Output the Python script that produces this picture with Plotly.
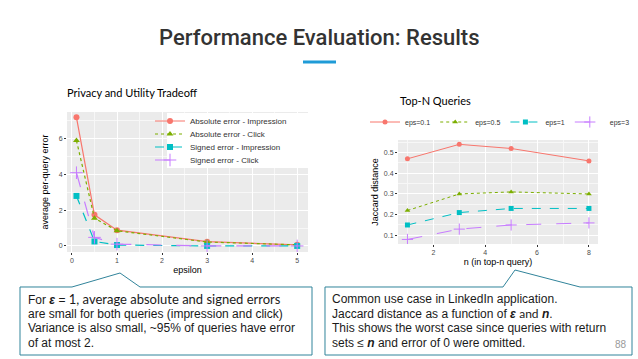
import plotly.graph_objects as go

W, H = 638, 359

# ---------------- data ----------------
eps_x = [0.1, 0.5, 1, 3, 5]
abs_imp = [7.2, 1.74, 0.88, 0.24, 0.06]
abs_click = [5.9, 1.55, 0.85, 0.22, 0.06]
sgn_imp = [2.8, 0.25, 0.05, 0.0, 0.0]
sgn_click = [4.1, 0.48, 0.1, 0.0, 0.0]
left_names = ["Absolute error - Impression", "Absolute error - Click",
              "Signed error - Impression", "Signed error - Click"]

n_x = [1, 3, 5, 8]
eps01 = [0.47, 0.54, 0.52, 0.46]
eps05 = [0.22, 0.30, 0.31, 0.30]
eps1 = [0.15, 0.21, 0.23, 0.23]
eps3 = [0.08, 0.13, 0.15, 0.16]
right_names = ["eps=0.1", "eps=0.5", "eps=1", "eps=3"]

left_yticks = [0, 2, 4, 6]
left_xticks = [0, 1, 2, 3, 4, 5]
right_yticks = [0.1, 0.2, 0.3, 0.4, 0.5]
right_xticks = [2, 4, 6, 8]

colors = ["#F8766D", "#7CAE00", "#00BFC4", "#C77CFF"]
dashes = ["solid", "dot", "dash", "longdash"]
symbols = ["circle", "triangle-up", "square", "cross-thin"]


def px(x):
    return x / W


def py(y):
    return 1 - y / H


fig = go.Figure()

left_legends = ["legend", "legend2", "legend3", "legend4"]
for i, ys in enumerate([abs_imp, abs_click, sgn_imp, sgn_click]):
    fig.add_trace(go.Scatter(
        x=eps_x, y=ys, name=left_names[i], mode="lines+markers",
        line=dict(color=colors[i], dash=dashes[i], width=1.2),
        marker=dict(symbol=symbols[i], size=6 if i != 3 else 9, color=colors[i],
                    line=dict(color=colors[i], width=1 if i == 3 else 0)),
        xaxis="x", yaxis="y", legend=left_legends[i]))

for i, ys in enumerate([eps01, eps05, eps1, eps3]):
    fig.add_trace(go.Scatter(
        x=n_x, y=ys, name=right_names[i], mode="lines+markers",
        line=dict(color=colors[i], dash=dashes[i], width=1),
        marker=dict(symbol=symbols[i], size=5 if i != 3 else 8, color=colors[i],
                    line=dict(color=colors[i], width=1 if i == 3 else 0)),
        xaxis="x2", yaxis="y2", legend="legend5"))

axis_common = dict(
    showgrid=True, gridcolor="white", gridwidth=1, zeroline=False,
    ticks="outside", ticklen=2, tickcolor="#333333", tickwidth=0.8,
    tickfont=dict(family="Liberation Sans", size=7, color="#4D4D4D"),
    showline=False,
)

fig.update_layout(
    width=W, height=H, margin=dict(l=0, r=0, t=0, b=0),
    paper_bgcolor="white", plot_bgcolor="#EBEBEB",
    font=dict(family="Liberation Sans", color="black"),
    xaxis=dict(domain=[px(67), px(308)], range=[-0.11, 5.24], tickvals=left_xticks,
               minor=dict(showgrid=True, gridcolor="#F7F7F7", gridwidth=0.6, dtick=0.5, tick0=0),
               title=dict(text="epsilon", font=dict(size=9), standoff=3),
               anchor="y", **axis_common),
    yaxis=dict(domain=[py(252), py(112)], range=[-0.34, 7.5], tickvals=left_yticks,
               minor=dict(showgrid=True, gridcolor="#F7F7F7", gridwidth=0.6, dtick=1, tick0=1),
               title=dict(text="average per-query error", font=dict(size=9), standoff=8),
               anchor="x", **axis_common),
    xaxis2=dict(domain=[px(398), px(598)], range=[0.636, 8.35], tickvals=right_xticks,
                minor=dict(showgrid=True, gridcolor="#F7F7F7", gridwidth=0.6, dtick=1, tick0=1),
                title=dict(text="n (in top-n query)", font=dict(size=9), standoff=3),
                anchor="y2", **axis_common),
    yaxis2=dict(domain=[py(244), py(140)], range=[0.058, 0.561], tickvals=right_yticks,
                ticktext=["0.1", "0.2", "0.3", "0.4", "0.5"],
                minor=dict(showgrid=True, gridcolor="#F7F7F7", gridwidth=0.6, dtick=0.05, tick0=0.05),
                title=dict(text="Jaccard distance", font=dict(size=9), standoff=3),
                anchor="x2", **axis_common),
    legend5=dict(x=px(500), y=py(122), xanchor="center", yanchor="middle",
                 orientation="h", bgcolor="rgba(0,0,0,0)",
                 font=dict(size=7, color="#333333"), itemwidth=30),
    showlegend=True,
)
leg_y = [121, 134, 147, 160]
for name, yy in zip(left_legends, leg_y):
    fig.update_layout({name: dict(x=px(150), y=py(yy), xanchor="left", yanchor="middle",
                                  bgcolor="rgba(0,0,0,0)", font=dict(size=8, color="#333333"),
                                  itemwidth=30)})

annotations = [
    dict(text="Performance Evaluation: Results", x=px(320), y=py(38),
         font=dict(family="Roboto", size=22, weight=500, color="#333333")),
    dict(text="Privacy and Utility Tradeoff", x=px(65), y=py(93), xanchor="left",
         font=dict(family="Lato", size=11, color="black")),
    dict(text="Top-N Queries", x=px(398), y=py(101), xanchor="left",
         font=dict(family="Lato", size=11, color="black")),
    dict(text="88", x=px(629), y=py(344), xanchor="right",
         font=dict(family="Liberation Sans", size=10, color="#9A9A9A")),
]

left_lines = [
    "For <b><i>ε</i></b> = <span style=\"font-family:Lato;font-size:13px\">1, average absolute and signed errors</span>",
    "are small for both queries (impression and click)",
    "Variance is also small, ~95% of queries have error",
    "of at most 2.",
]
right_lines = [
    "Common use case in LinkedIn application.",
    "Jaccard distance as a function of <b><i>ε</i></b> <span style=\"font-family:Lato\">and</span> <b><i>n</i></b>.",
    "This shows the worst case since queries with return",
    "sets ≤ <b><i>n</i></b> and error of 0 were omitted.",
]
line_y = [299, 313.5, 328, 342.5]
for t, yy in zip(left_lines, line_y):
    annotations.append(dict(text=t, x=px(26), y=py(yy), xanchor="left",
                            font=dict(family="Liberation Sans", size=12, color="#1a1a1a")))
for t, yy in zip(right_lines, line_y):
    annotations.append(dict(text=t, x=px(330), y=py(yy), xanchor="left",
                            font=dict(family="Liberation Sans", size=12, color="#1a1a1a")))
for a in annotations:
    a.update(xref="paper", yref="paper", showarrow=False, yanchor="middle")
    a.setdefault("xanchor", "center")
fig.update_layout(annotations=annotations)


def path(pts):
    return "M " + " L ".join(f"{px(a):.5f},{py(b):.5f}" for a, b in pts) + " Z"


box_col = "#31849B"
shapes = [
    dict(type="line", xref="paper", yref="paper", x0=px(303), x1=px(336), y0=py(62), y1=py(62),
         line=dict(color="#1F9BD7", width=3)),
    dict(type="rect", xref="paper", yref="paper", x0=px(167), x1=px(308), y0=py(113), y1=py(168),
         line=dict(width=0), fillcolor="white", layer="above"),
    dict(type="path", xref="paper", yref="paper",
         path=path([(20, 287), (72, 287), (120, 273), (140, 287), (312, 287), (312, 355), (20, 355)]),
         line=dict(color=box_col, width=1), fillcolor="white"),
    dict(type="path", xref="paper", yref="paper",
         path=path([(325, 287), (503, 287), (515, 270), (580, 287), (632, 287), (632, 355), (325, 355)]),
         line=dict(color=box_col, width=1), fillcolor="white"),
]
fig.update_layout(shapes=shapes)

fig.write_html("out.html", config={"displayModeBar": False},
               post_script="document.body.style.margin='0';")
